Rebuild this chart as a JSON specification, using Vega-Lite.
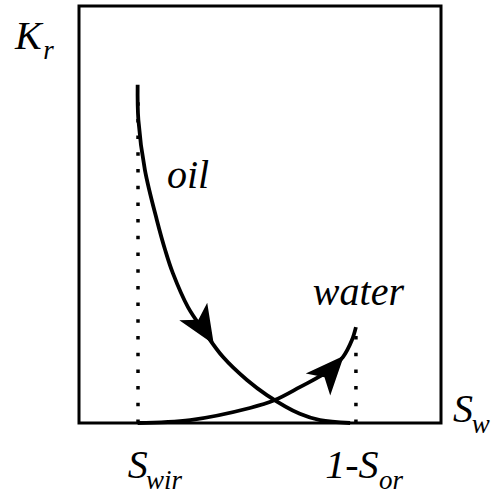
{
  "$schema": "https://vega.github.io/schema/vega-lite/v6.json",
  "width": 362,
  "height": 417,
  "autosize": {"type": "none"},
  "padding": {"left": 79, "top": 6, "right": 51, "bottom": 71},
  "background": "white",
  "config": {
    "view": {"stroke": "black", "strokeWidth": 3}
  },
  "datasets": {
    "curves": [
      {"phase": "oil", "i": 0, "sw": 0.162, "kr": 0.811},
      {"phase": "oil", "i": 1, "sw": 0.164, "kr": 0.727},
      {"phase": "oil", "i": 2, "sw": 0.182, "kr": 0.607},
      {"phase": "oil", "i": 3, "sw": 0.215, "kr": 0.487},
      {"phase": "oil", "i": 4, "sw": 0.238, "kr": 0.415},
      {"phase": "oil", "i": 5, "sw": 0.259, "kr": 0.360},
      {"phase": "oil", "i": 6, "sw": 0.301, "kr": 0.278},
      {"phase": "oil", "i": 7, "sw": 0.343, "kr": 0.223},
      {"phase": "oil", "i": 8, "sw": 0.398, "kr": 0.158},
      {"phase": "oil", "i": 9, "sw": 0.464, "kr": 0.103},
      {"phase": "oil", "i": 10, "sw": 0.519, "kr": 0.067},
      {"phase": "oil", "i": 11, "sw": 0.610, "kr": 0.022},
      {"phase": "oil", "i": 12, "sw": 0.666, "kr": 0.007},
      {"phase": "oil", "i": 13, "sw": 0.749, "kr": 0.0},
      {"phase": "water", "i": 0, "sw": 0.162, "kr": 0.0},
      {"phase": "water", "i": 1, "sw": 0.307, "kr": 0.007},
      {"phase": "water", "i": 2, "sw": 0.472, "kr": 0.036},
      {"phase": "water", "i": 3, "sw": 0.541, "kr": 0.055},
      {"phase": "water", "i": 4, "sw": 0.610, "kr": 0.086},
      {"phase": "water", "i": 5, "sw": 0.693, "kr": 0.127},
      {"phase": "water", "i": 6, "sw": 0.729, "kr": 0.158},
      {"phase": "water", "i": 7, "sw": 0.754, "kr": 0.199},
      {"phase": "water", "i": 8, "sw": 0.765, "kr": 0.230}
    ],
    "endpoints": [
      {"sw": 0.163, "k0": 0.0, "k1": 0.80},
      {"sw": 0.765, "k0": 0.0, "k1": 0.21}
    ],
    "arrows": [
      {"phase": "oil", "sw": 0.344, "kr": 0.228},
      {"phase": "water", "sw": 0.696, "kr": 0.127}
    ],
    "labels": [
      {"text": "K", "sw": -0.177, "kr": 0.897},
      {"text": "S", "sw": 1.033, "kr": 0.002},
      {"text": "S", "sw": 0.135, "kr": -0.132},
      {"text": "1-S", "sw": 0.680, "kr": -0.132},
      {"text": "oil", "sw": 0.243, "kr": 0.564},
      {"text": "water", "sw": 0.646, "kr": 0.283}
    ],
    "subscripts": [
      {"text": "r", "sw": -0.099, "kr": 0.873},
      {"text": "w", "sw": 1.085, "kr": -0.024},
      {"text": "wir", "sw": 0.185, "kr": -0.158},
      {"text": "or", "sw": 0.829, "kr": -0.158}
    ]
  },
  "encoding": {
    "x": {"field": "sw", "type": "quantitative", "scale": {"domain": [0, 1], "nice": false, "zero": false}, "axis": null},
    "y": {"field": "kr", "type": "quantitative", "scale": {"domain": [0, 1], "nice": false, "zero": false}, "axis": null}
  },
  "layer": [
    {
      "data": {"name": "endpoints"},
      "mark": {"type": "rule", "color": "black", "strokeWidth": 3.5, "strokeDash": [3.5, 13.2]},
      "encoding": {"y": {"field": "k0", "type": "quantitative"}, "y2": {"field": "k1"}}
    },
    {
      "data": {"name": "curves"},
      "mark": {"type": "line", "color": "black", "strokeWidth": 3.8, "interpolate": "catmull-rom", "clip": false},
      "encoding": {
        "detail": {"field": "phase"},
        "order": {"field": "i", "type": "quantitative"}
      }
    },
    {
      "data": {"name": "arrows"},
      "transform": [{"filter": "datum.phase === 'oil'"}],
      "mark": {"type": "point", "shape": "M1,0L-1,-0.85L-0.5,0L-1,0.85Z", "filled": true, "color": "black", "opacity": 1, "size": 1500, "angle": 58}
    },
    {
      "data": {"name": "arrows"},
      "transform": [{"filter": "datum.phase === 'water'"}],
      "mark": {"type": "point", "shape": "M1,0L-1,-0.85L-0.5,0L-1,0.85Z", "filled": true, "color": "black", "opacity": 1, "size": 1500, "angle": -48}
    },
    {
      "data": {"name": "labels"},
      "mark": {"type": "text", "font": "Liberation Serif", "fontStyle": "italic", "color": "black", "align": "left", "baseline": "alphabetic", "fontSize": 40, "clip": false},
      "encoding": {"text": {"field": "text"}}
    },
    {
      "data": {"name": "subscripts"},
      "mark": {"type": "text", "font": "Liberation Serif", "fontStyle": "italic", "color": "black", "align": "left", "baseline": "alphabetic", "fontSize": 27, "clip": false},
      "encoding": {"text": {"field": "text"}}
    }
  ]
}
